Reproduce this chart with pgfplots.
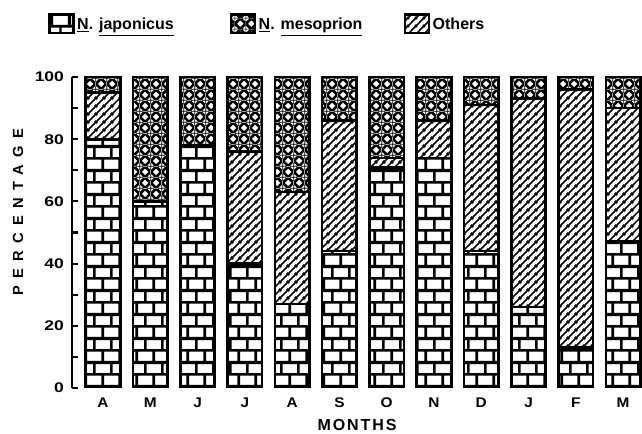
\documentclass[border=0pt]{standalone}
\usepackage{fontspec}
\setmainfont{Liberation Sans}
\usepackage{pgfplots}
\usepackage{pgfplotstable}
\pgfplotsset{compat=1.18}
\usetikzlibrary{patterns}

% brick wall for N. japonicus
\pgfdeclarepatternformonly{jbricks}{\pgfpointorigin}{\pgfpoint{13pt}{18pt}}{\pgfpoint{13pt}{18pt}}{%
  \pgfsetlinewidth{1.9pt}%
  \pgfpathmoveto{\pgfpoint{-1pt}{0pt}}\pgfpathlineto{\pgfpoint{14pt}{0pt}}%
  \pgfpathmoveto{\pgfpoint{-1pt}{9pt}}\pgfpathlineto{\pgfpoint{14pt}{9pt}}%
  \pgfpathmoveto{\pgfpoint{-1pt}{18pt}}\pgfpathlineto{\pgfpoint{14pt}{18pt}}%
  \pgfpathmoveto{\pgfpoint{0pt}{0pt}}\pgfpathlineto{\pgfpoint{0pt}{9pt}}%
  \pgfpathmoveto{\pgfpoint{13pt}{0pt}}\pgfpathlineto{\pgfpoint{13pt}{9pt}}%
  \pgfpathmoveto{\pgfpoint{6.5pt}{9pt}}\pgfpathlineto{\pgfpoint{6.5pt}{18pt}}%
  \pgfusepath{stroke}}

% heavy crosshatch for N. mesoprion (black with white diamonds)
\pgfdeclarepatternformonly{mcross}{\pgfpointorigin}{\pgfpoint{8pt}{8pt}}{\pgfpoint{8pt}{8pt}}{%
  \pgfpathrectangle{\pgfpointorigin}{\pgfpoint{8pt}{8pt}}%
  \foreach \cx/\cy in {4/4,0/0,8/0,0/8,8/8}{%
    \pgfpathmoveto{\pgfpoint{\cx pt}{\cy pt-2.6pt}}\pgfpathlineto{\pgfpoint{\cx pt+2.6pt}{\cy pt}}%
    \pgfpathlineto{\pgfpoint{\cx pt}{\cy pt+2.6pt}}\pgfpathlineto{\pgfpoint{\cx pt-2.6pt}{\cy pt}}\pgfpathclose}%
  \pgfseteorule
  \pgfusepath{fill}}

% diagonal hatching for Others
\pgfdeclarepatternformonly{ohatch}{\pgfpointorigin}{\pgfpoint{6pt}{6pt}}{\pgfpoint{6pt}{6pt}}{%
  \pgfsetlinewidth{1.4pt}%
  \pgfpathmoveto{\pgfpoint{-1pt}{-1pt}}\pgfpathlineto{\pgfpoint{7pt}{7pt}}%
  \pgfpathmoveto{\pgfpoint{-1pt}{5pt}}\pgfpathlineto{\pgfpoint{1pt}{7pt}}%
  \pgfpathmoveto{\pgfpoint{5pt}{-1pt}}\pgfpathlineto{\pgfpoint{7pt}{1pt}}%
  \pgfusepath{stroke}}

% month  japonicus  others  mesoprion
\pgfplotstableread{
m  jap oth mes
0  80  15  5
1  60  0   40
2  78  0   22
3  40  36  24
4  27  36  37
5  44  42  14
6  71  3   26
7  74  12  14
8  44  47  9
9  26  67  7
10 13  83  4
11 47  43  10
}\monthdata

\begin{document}
\begin{tikzpicture}
\begin{axis}[
  name=ax,
  scale only axis,
  width=427.5pt, height=233.25pt,
  ybar stacked, bar width=0.73,
  xmin=-0.656, xmax=11.40, ymin=0, ymax=100,
  axis lines*=left,
  x axis line style={draw=none},
  y axis line style={line width=1.9pt},
  xtick={0,...,11},
  xticklabels={A,M,J,J,A,S,O,N,D,J,F,M},
  major x tick style={draw=none},
  ytick={0,20,...,100}, minor ytick={10,30,...,90},
  ytick pos=left,
  tick align=inside,
  major tick length=4.5pt, minor tick length=4.5pt,
  every y tick/.style={line width=1.6pt, black},
  minor y tick style={line width=1.6pt, black},
  /pgf/number format/assume math mode=true,
  yticklabel style={font=\bfseries\fontsize{10.5}{12}\selectfont\addfontfeature{FakeStretch=1.25}, xshift=-2.5pt},
  xticklabel style={font=\bfseries\fontsize{10.5}{12}\selectfont\addfontfeature{FakeStretch=1.1}, yshift=-4pt},
  xlabel={\addfontfeature{LetterSpace=12}MONTHS},
  xlabel style={font=\bfseries\fontsize{12}{14}\selectfont, at={(axis description cs:0.5,0)}, anchor=center, yshift=-27.5pt},
  ylabel={\addfontfeature{LetterSpace=50}PERCENTAGE},
  ylabel style={font=\bfseries\fontsize{11}{13}\selectfont, at={(axis description cs:0,0.566)}, anchor=center, yshift=40.5pt},
  legend image code/.code={\draw[#1] (0pt,-6pt) rectangle (18pt,8pt);},
  legend style={at={(rel axis cs:0,1)}, anchor=north west, xshift=-18pt, yshift=48pt,
    draw=none, fill=none, inner sep=0pt,
    font=\bfseries\fontsize{12}{14}\selectfont, legend columns=3,
    /tikz/column 2/.style={column sep=40pt},
    /tikz/column 4/.style={column sep=29pt}},
  legend cell align=left,
]
\addlegendimage{draw=black, line width=1.7pt, pattern=jbricks}
\addlegendimage{draw=black, line width=1.7pt, pattern=mcross}
\addlegendimage{draw=black, line width=1.7pt, pattern=ohatch}
\legend{\underline{N}. \underline{japonicus}, \underline{N}. \underline{mesoprion}, Others}

\addplot[draw=black, line width=2pt, pattern=jbricks] table[x=m, y=jap] {\monthdata};
\addplot[draw=black, line width=2pt, pattern=ohatch] table[x=m, y=oth] {\monthdata};
\addplot[draw=black, line width=2pt, pattern=mcross] table[x=m, y=mes] {\monthdata};
\end{axis}
\pgfresetboundingbox
\useasboundingbox ([xshift=-54pt, yshift=-34.5pt]ax.south west) rectangle ([yshift=57.75pt]ax.north east);
\end{tikzpicture}
\end{document}
